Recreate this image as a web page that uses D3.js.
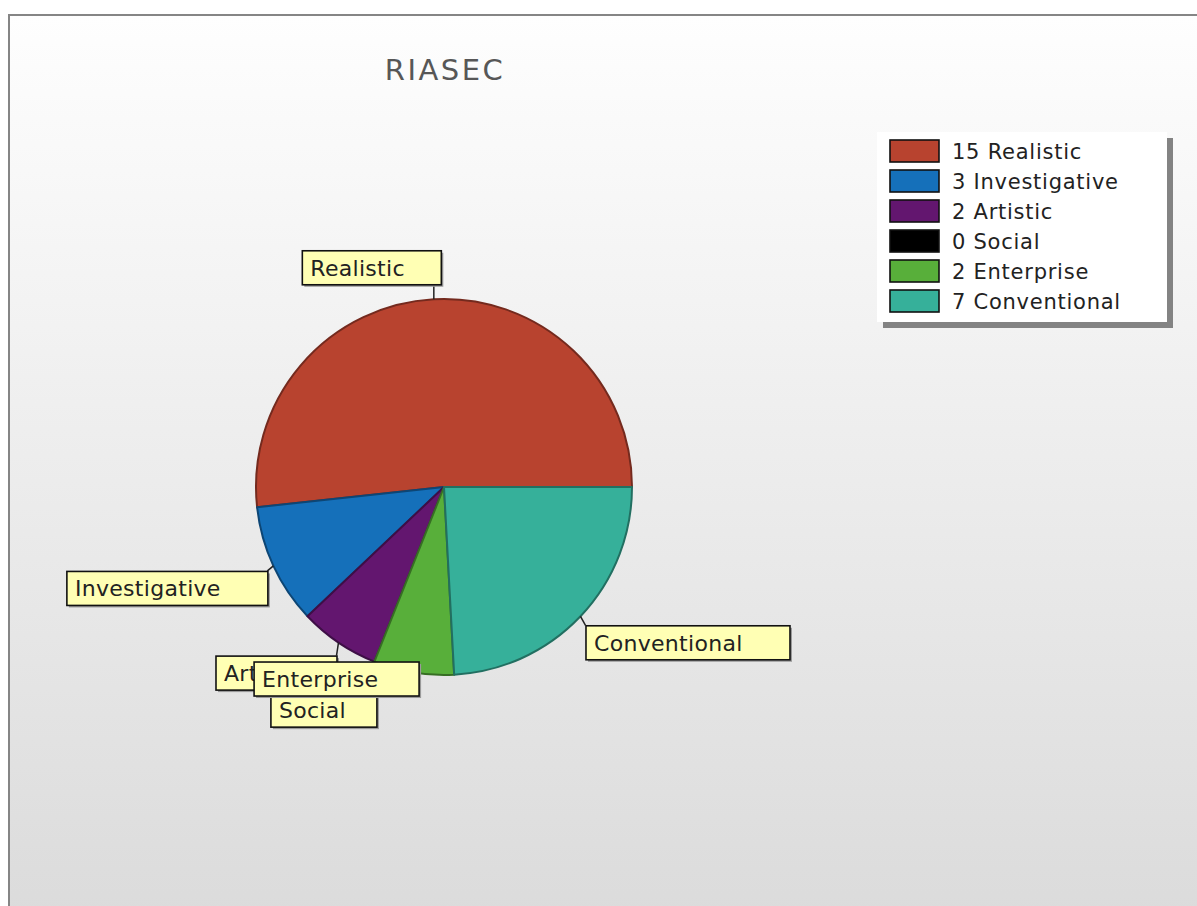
<!DOCTYPE html>
<html>
<head>
<meta charset="utf-8">
<script src="https://cdn.jsdelivr.net/npm/d3@7"></script>
<style>
  body { margin: 0; background: #fff; }
  svg { display: block; }
</style>
</head>
<body>
<div id="chart"></div>
<script>
// RIASEC scores
const categories = ["Realistic", "Investigative", "Artistic", "Social", "Enterprise", "Conventional"];
const scores = [15, 3, 2, 0, 2, 7];
const sliceColors = ["#b8432f", "#1570ba", "#63166f", "#000000", "#58af3a", "#36b09a"];
const chartTitle = "RIASEC";

// layout
const W = 1197, H = 906;
const cx = 444, cy = 487, radius = 188;
const labelFont = "22px 'DejaVu Sans', Verdana, sans-serif";
const labelSpacing = "0.3px";
const boxH = 34;

// where each label box sits relative to its slice anchor (edge nearest the anchor)
const labelPlacement = {
  "Realistic":     { edge: "right", dx: 7,  dy: -49 },
  "Investigative": { edge: "right", dx: -6, dy: 5 },
  "Artistic":      { edge: "right", dx: -2, dy: 13 },
  "Social":        { edge: "right", dx: 2,  dy: 31 },
  "Enterprise":    { edge: "right", dx: 5,  dy: -11 },
  "Conventional":  { edge: "left",  dx: 5,  dy: 9 }
};

const data = categories.map((c, i) => ({ name: c, value: scores[i], color: sliceColors[i] }));

const svg = d3.select("#chart").append("svg")
    .attr("width", W)
    .attr("height", H);

const defs = svg.append("defs");
const bg = defs.append("linearGradient")
    .attr("id", "bg")
    .attr("x1", 0).attr("y1", 0).attr("x2", 0).attr("y2", 1);
bg.append("stop").attr("offset", "0%").attr("stop-color", "#fefefe");
bg.append("stop").attr("offset", "100%").attr("stop-color", "#dbdbdb");

// chart frame
svg.append("rect")
    .attr("x", 9).attr("y", 15)
    .attr("width", W + 10).attr("height", H)
    .attr("fill", "url(#bg)")
    .attr("stroke", "#858585")
    .attr("stroke-width", 2);

// title
svg.append("text")
    .attr("x", cx + 1)
    .attr("y", 80)
    .attr("text-anchor", "middle")
    .style("font", "29px 'DejaVu Sans', sans-serif")
    .style("letter-spacing", "2.5px")
    .attr("fill", "#575757")
    .text(chartTitle);

// pie, drawn counter-clockwise from 3 o'clock
const pie = d3.pie()
    .sort(null)
    .value(d => d.value)
    .startAngle(Math.PI / 2)
    .endAngle(Math.PI / 2 - 2 * Math.PI);

const arcs = pie(data);
const arc = d3.arc().innerRadius(0).outerRadius(radius);
const rim = d3.arc().innerRadius(radius).outerRadius(radius);

const g = svg.append("g").attr("transform", `translate(${cx},${cy})`);

g.selectAll("path.slice")
    .data(arcs.filter(d => d.data.value > 0))
    .enter()
    .append("path")
    .attr("class", "slice")
    .attr("d", arc)
    .attr("fill", d => d.data.color)
    .attr("stroke", d => d3.color(d.data.color).darker(1.3))
    .attr("stroke-width", 2)
    .attr("stroke-linejoin", "round");

// measure text widths
const measure = svg.append("text")
    .style("font", labelFont)
    .style("letter-spacing", labelSpacing)
    .attr("visibility", "hidden");
function textWidth(s) {
  measure.text(s);
  return measure.node().getComputedTextLength();
}

// callout labels
const labels = svg.append("g");
arcs.forEach(d => {
  const [ax0, ay0] = rim.centroid(d);
  const ax = cx + ax0, ay = cy + ay0;
  const p = labelPlacement[d.data.name];
  const tw = textWidth(d.data.name);
  const w = Math.round(tw * 1.2 + 26);
  const x0 = p.edge === "right" ? ax + p.dx - w : ax + p.dx;
  const y0 = ay + p.dy;

  const lg = labels.append("g");
  // connector to nearest point on the box
  const nx = Math.max(x0, Math.min(x0 + w, ax));
  const ny = Math.max(y0, Math.min(y0 + boxH, ay));
  lg.append("line")
      .attr("x1", ax).attr("y1", ay)
      .attr("x2", nx).attr("y2", ny)
      .attr("stroke", "#222")
      .attr("stroke-width", 1.5);
  lg.append("rect")
      .attr("x", x0 + 2.5).attr("y", y0 + 2.5)
      .attr("width", w).attr("height", boxH)
      .attr("fill", "#9a9a9a");
  lg.append("rect")
      .attr("x", x0 + 0.5).attr("y", y0 + 0.5)
      .attr("width", w).attr("height", boxH)
      .attr("fill", "#ffffb4")
      .attr("stroke", "#111")
      .attr("stroke-width", 1.6);
  lg.append("text")
      .attr("x", x0 + 8.5)
      .attr("y", y0 + boxH / 2 + 1)
      .attr("dominant-baseline", "central")
      .style("font", labelFont)
      .style("letter-spacing", labelSpacing)
      .attr("fill", "#222")
      .text(d.data.name);
});
measure.remove();

// legend
const lx = 877, ly = 132, lw = 290, lh = 190, rowH = 30;
const legend = svg.append("g");
legend.append("rect")
    .attr("x", lx + 6).attr("y", ly + 6)
    .attr("width", lw).attr("height", lh)
    .attr("fill", "#838383");
legend.append("rect")
    .attr("x", lx).attr("y", ly)
    .attr("width", lw).attr("height", lh)
    .attr("fill", "#ffffff");

const rows = legend.selectAll("g.row")
    .data(data)
    .enter()
    .append("g")
    .attr("class", "row")
    .attr("transform", (d, i) => `translate(${lx + 13},${ly + 8 + i * rowH})`);

rows.append("rect")
    .attr("x", 0).attr("y", 0)
    .attr("width", 49).attr("height", 22)
    .attr("fill", d => d.color)
    .attr("stroke", "#111")
    .attr("stroke-width", 1.6);

rows.append("text")
    .attr("x", 62)
    .attr("y", 12)
    .attr("dominant-baseline", "central")
    .style("font", "21px 'DejaVu Sans', Verdana, sans-serif")
    .style("letter-spacing", "0.75px")
    .attr("fill", "#222")
    .text(d => `${d.value} ${d.name}`);
</script>
</body>
</html>
